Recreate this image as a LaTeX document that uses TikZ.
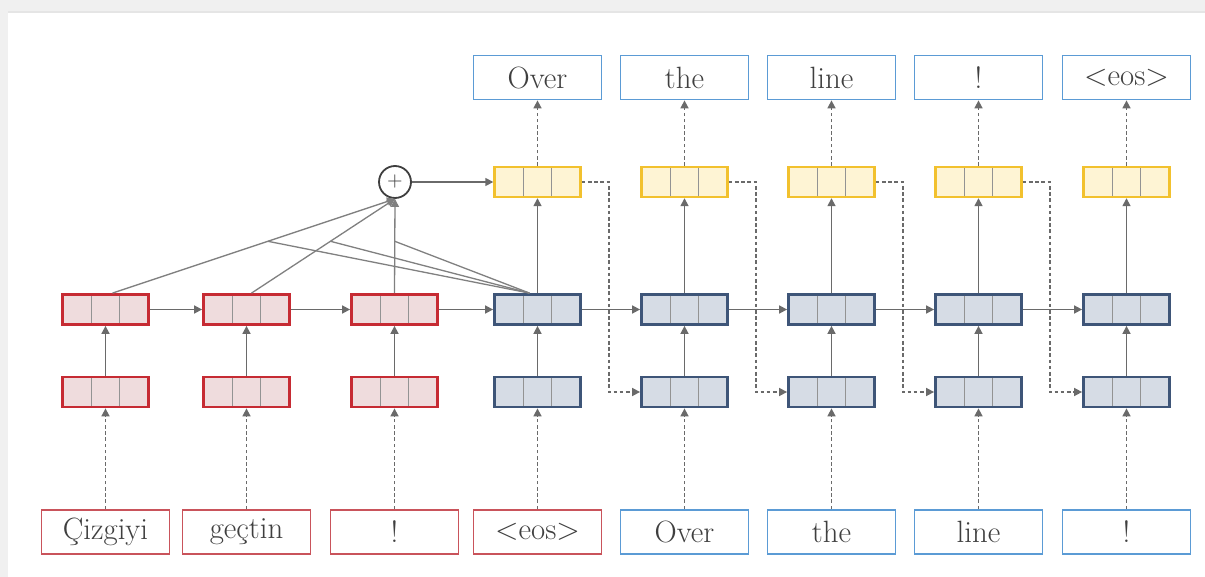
\documentclass[tikz,border=0pt]{standalone}
\usepackage{fontspec}
\usetikzlibrary{calc}
\usetikzlibrary{arrows.meta}
\usepackage{xcolor}
\definecolor{encred}{HTML}{C62B33}
\definecolor{encfill}{HTML}{EFDCDD}
\definecolor{decblue}{HTML}{3E5578}
\definecolor{decfill}{HTML}{D6DCE5}
\definecolor{attyellow}{HTML}{F2C12E}
\definecolor{attfill}{HTML}{FEF4D4}
\definecolor{inred}{HTML}{C9535B}
\definecolor{wordblue}{HTML}{5B9BD5}
\definecolor{linkgray}{HTML}{6A6A6A}
\definecolor{txtgray}{HTML}{3F3F3F}
\definecolor{bggray}{HTML}{F0F0F0}

\begin{document}
\begin{tikzpicture}[x=0.5pt, y=-0.5pt,
  vec/.style={draw, line width=1.4pt, minimum width=43pt, minimum height=15pt, inner sep=0,
    path picture={\foreach \f in {1,2}
      \draw[gray!85, line width=0.5pt]
        ($(path picture bounding box.south west)!\f/3!(path picture bounding box.south east)$) --
        ($(path picture bounding box.north west)!\f/3!(path picture bounding box.north east)$);}},
  enc vec/.style={draw=encred, fill=encfill},
  dec vec/.style={draw=decblue, fill=decfill},
  att vec/.style={draw=attyellow, fill=attfill, line width=1.2pt},
  word/.style={draw, line width=0.9pt, fill=white, minimum width=64pt, minimum height=22pt,
    inner sep=0, text=txtgray, font=\fontsize{15.4}{18}\selectfont},
  enc word/.style={draw=inred},
  dec word/.style={draw=wordblue},
  link/.style={draw=linkgray, line width=0.8pt, -{Triangle[length=4pt,width=4pt]}},
  dlink/.style={link, dash pattern=on 1.8pt off 1.3pt},
  attn/.style={draw=linkgray!85, line width=0.65pt}]

\useasboundingbox (0,0) rectangle (1205,577);
\fill[bggray] (0,0) rectangle (1205,577);
\fill[white] (8,12) rectangle (1205,577);
\draw[gray!20, line width=0.6pt] (8,12) -- (1205,12);

% input words and the two stacked states
\foreach \x/\w/\k [count=\i] in {105.5/Çizgiyi/enc, 246.5/geçtin/enc, 394.5/!/enc, 537.5/<eos>/enc,
    684.5/Over/dec, 831.5/the/dec, 978.5/line/dec, 1126.5/!/dec} {
  \node[word, \k\space word] (in\i) at (\x,532) {\w};
}
\foreach \x/\k [count=\i] in {105.5/enc, 246.5/enc, 394.5/enc, 537.5/dec,
    684.5/dec, 831.5/dec, 978.5/dec, 1126.5/dec} {
  \node[vec, \k\space vec] (lo\i) at (\x,392) {};
  \node[vec, \k\space vec] (hi\i) at (\x,309.5) {};
  \draw[dlink] (in\i.north) -- (in\i.north |- lo\i.south);
  \draw[link] (lo\i) -- (hi\i);
}
\foreach \i/\j in {1/2,2/3,3/4,4/5,5/6,6/7,7/8}
  \draw[link] (hi\i) -- (hi\j);

% attentional states and outputs
\foreach \x/\w [count=\i from 4] in {537.5/Over, 684.5/the, 831.5/line, 978.5/!, 1126.5/<eos>} {
  \node[vec, att vec] (at\i) at (\x,182) {};
  \node[word, dec word] (out\i) at (\x,77.5) {\w};
  \draw[link] (hi\i) -- (at\i);
  \draw[dlink] (at\i) -- (out\i);
}
\foreach \i/\j in {4/5,5/6,6/7,7/8}
  \draw[dlink] (at\i.east) -- ++(27,0) |- (lo\j.west);

% attention
\node[circle, draw=txtgray, line width=0.9pt, fill=white, minimum size=16pt, inner sep=0,
  text=txtgray, font=\fontsize{10}{10}\selectfont] (sum) at (395,182) {$+$};
\coordinate (k1) at ($(hi1.north)+(7,0)$);
\coordinate (k2) at ($(hi2.north)+(5,0)$);
\coordinate (k3) at (hi3.north);
\coordinate (q) at ($(hi4.north)+(-8,0)$);
\foreach \i in {1,2,3} {
  \draw[attn, -{Triangle[length=4pt,width=4pt]}] (k\i) -- (sum.south);
  \coordinate (m\i) at ($(k\i)!0.55!(sum.south)$);
  \draw[attn] (q) -- (m\i);
}
\draw[link] (sum) -- (at4);
\end{tikzpicture}
\end{document}
